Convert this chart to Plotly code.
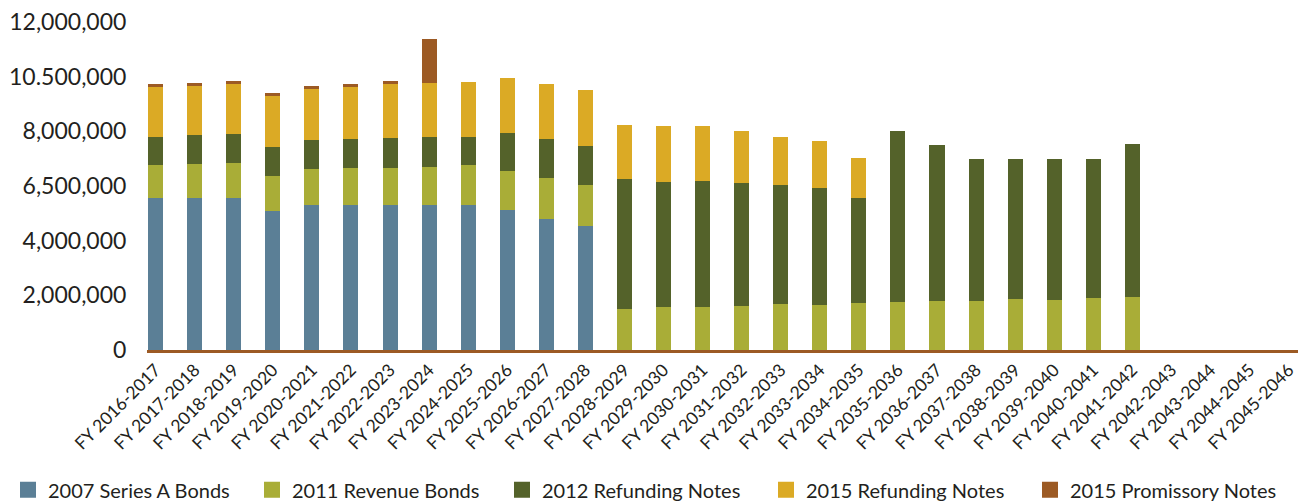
import plotly.graph_objects as go

years = list(range(2016, 2046))
categories = ["FY {}-{}".format(y, y + 1) for y in years]

series_a_2007 = [5560000, 5560000, 5560000, 5100000, 5310000, 5310000, 5310000, 5310000,
                 5310000, 5130000, 4800000, 4550000, 0, 0, 0, 0, 0, 0, 0, 0, 0, 0, 0, 0,
                 0, 0, 0, 0, 0, 0]
revenue_2011 = [1200000, 1240000, 1280000, 1260000, 1310000, 1340000, 1340000, 1380000,
                1450000, 1420000, 1490000, 1490000, 1490000, 1560000, 1560000, 1600000,
                1670000, 1640000, 1710000, 1750000, 1780000, 1780000, 1850000, 1820000,
                1890000, 1930000, 0, 0, 0, 0]
refunding_2012 = [1020000, 1050000, 1050000, 1060000, 1050000, 1060000, 1100000, 1090000,
                  1020000, 1380000, 1420000, 1410000, 4760000, 4590000, 4620000, 4510000,
                  4370000, 4290000, 3850000, 6250000, 5710000, 5200000, 5130000, 5160000,
                  5090000, 5600000, 0, 0, 0, 0]
refunding_2015 = [1850000, 1820000, 1860000, 1890000, 1890000, 1930000, 2000000, 2000000,
                  2040000, 2030000, 2040000, 2080000, 2000000, 2030000, 2000000, 1890000,
                  1740000, 1710000, 1460000, 0, 0, 0, 0, 0, 0, 0, 0, 0, 0, 0]
promissory_2015 = [110000, 110000, 100000, 110000, 110000, 110000, 100000, 1600000,
                   0, 0, 0, 0, 0, 0, 0, 0, 0, 0, 0, 0, 0, 0, 0, 0, 0, 0, 0, 0, 0, 0]

y_tickvals = [0, 2000000, 4000000, 6000000, 8000000, 10000000, 12000000]
y_ticktext = ["0", "2,000,000", "4,000,000", "6,500,000", "8,000,000", "10.500,000", "12,000,000"]

SERIES = [
    ("2007 Series A Bonds", series_a_2007, "#5B7F96"),
    ("2011 Revenue Bonds", revenue_2011, "#A9AD37"),
    ("2012 Refunding Notes", refunding_2012, "#54622A"),
    ("2015 Refunding Notes", refunding_2015, "#DBAA25"),
    ("2015 Promissory Notes", promissory_2015, "#9C5A24"),
]

FONT = "Lato, 'Open Sans', sans-serif"
TEXT = "#231F20"
W, H = 1307, 503

# one legend per entry so the row spacing can follow the original
LEGEND_X = [0, 244, 494, 758, 1022]

fig = go.Figure()
for name, vals, color in SERIES:
    fig.add_trace(go.Bar(x=categories, y=vals, name=name, marker_color=color,
                         marker_line_width=0, showlegend=False))

legend_layout = {}
for i, (name, vals, color) in enumerate(SERIES):
    key = "legend" if i == 0 else "legend{}".format(i + 1)
    fig.add_trace(go.Scatter(x=[None], y=[None], mode="markers", name=name,
                             legend=key,
                             marker=dict(symbol="square", size=16, color=color)))
    legend_layout[key] = dict(
        orientation="h",
        xref="container", yref="container",
        x=LEGEND_X[i] / W, y=0.042, xanchor="left", yanchor="middle",
        font=dict(size=20, color=TEXT),
        bgcolor="rgba(0,0,0,0)",
    )

# page body adds an 8px margin, so everything is placed 8px up/left
fig.update_layout(
    barmode="stack",
    bargap=0.616,
    width=W, height=H,
    plot_bgcolor="white", paper_bgcolor="white",
    margin=dict(l=139, r=17, t=14, b=161, autoexpand=False),
    font=dict(family=FONT, color=TEXT),
    xaxis=dict(
        range=[-0.22, 29.24],
        tickangle=-45,
        tickfont=dict(size=17.5, color=TEXT),
        showline=True, linecolor="#9C5A24", linewidth=3,
        showgrid=False, ticks="",
    ),
    yaxis=dict(
        range=[0, 12000000],
        tickvals=y_tickvals, ticktext=y_ticktext,
        tickfont=dict(size=23, color=TEXT),
        ticklabeloverflow="allow",
        showgrid=False, zeroline=False, showline=False,
        ticks="outside", tickcolor="white", ticklen=15,
    ),
    **legend_layout,
)

fig.write_html("out.html")
